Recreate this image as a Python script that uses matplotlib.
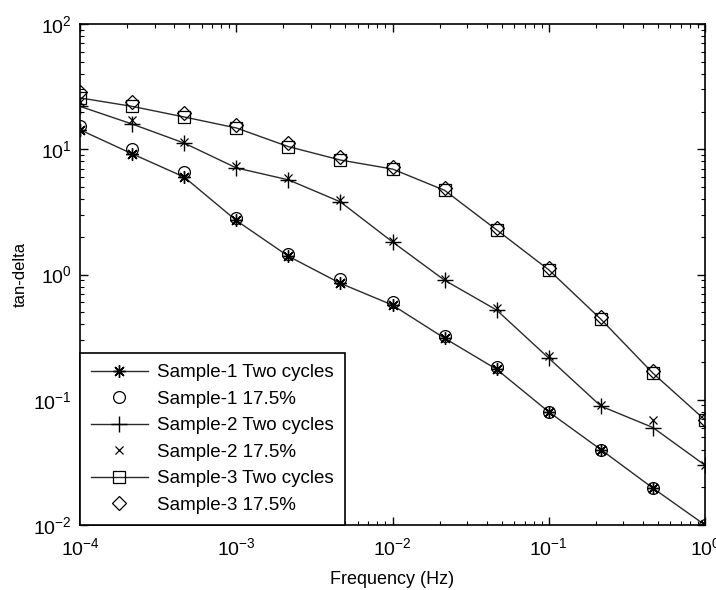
import numpy as np
import matplotlib
matplotlib.use("Agg")
import matplotlib.pyplot as plt

plt.rcParams["font.family"] = ["Liberation Sans", "DejaVu Sans"]

# Frequencies (Hz), 3 points per decade
freq = np.logspace(-4, 0, 13)

s1_two = [14.3, 9.2, 6.0, 2.7, 1.4, 0.85, 0.57, 0.31, 0.175, 0.080, 0.040, 0.0197, 0.0100]
s1_175 = [15.3, 10.0, 6.6, 2.8, 1.45, 0.92, 0.60, 0.32, 0.182, 0.080, 0.040, 0.0197, 0.0100]
s2_two = [22.0, 15.9, 11.2, 7.1, 5.7, 3.8, 1.82, 0.90, 0.52, 0.215, 0.089, 0.060, 0.030]
s2_175 = [24.0, 17.2, 11.5, 7.3, 5.9, 3.9, 1.85, 0.92, 0.54, 0.225, 0.090, 0.069, 0.030]
s3_two = [25.7, 22.0, 18.1, 14.8, 10.5, 8.2, 6.95, 4.7, 2.27, 1.09, 0.44, 0.163, 0.069]
s3_175 = [28.5, 24.0, 19.5, 15.6, 11.2, 8.6, 7.2, 4.9, 2.35, 1.12, 0.46, 0.170, 0.069]

labels = ["Sample-1 Two cycles", "Sample-1 17.5%", "Sample-2 Two cycles",
          "Sample-2 17.5%", "Sample-3 Two cycles", "Sample-3 17.5%"]

fig = plt.figure(figsize=(7.16, 5.9), dpi=100)
ax = fig.add_axes([80 / 716, 65 / 590, 625 / 716, 501 / 590])

lc = "#2a2a2a"
asterisk = (8, 2, 0)  # MATLAB-style '*'
ax.plot(freq, s1_two, color=lc, lw=1.0, marker=asterisk, ms=9, mec="k", mew=1.0, label=labels[0])
ax.plot(freq, s1_175, ls="none", marker="o", ms=8.5, mfc="none", mec="k", mew=0.9, label=labels[1])
ax.plot(freq, s2_two, color=lc, lw=1.0, marker="+", ms=11, mec="k", mew=1.0, label=labels[2])
ax.plot(freq, s2_175, ls="none", marker="x", ms=6, mec="k", mew=0.9, label=labels[3])
ax.plot(freq, s3_two, color=lc, lw=1.0, marker="s", ms=8.5, mfc="none", mec="k", mew=0.9, label=labels[4])
ax.plot(freq, s3_175, ls="none", marker="D", ms=7, mfc="none", mec="k", mew=0.9, label=labels[5])

ax.set_xscale("log")
ax.set_yscale("log")
ax.set_xlim(1e-4, 1)
ax.set_ylim(1e-2, 1e2)

ax.tick_params(which="both", direction="in", top=True, right=True, labelsize=14, colors="k")
ax.tick_params(which="major", length=6, width=1)
ax.tick_params(which="minor", length=3, width=0.8)
ax.tick_params(axis="x", pad=9)
ax.tick_params(axis="y", pad=6)
for sp in ax.spines.values():
    sp.set_linewidth(1.2)

ax.set_xlabel("Frequency (Hz)", fontsize=13, labelpad=8)
ax.set_ylabel("tan-delta", fontsize=12, labelpad=4)

leg = ax.legend(loc="lower left", borderaxespad=0, fontsize=13.5, fancybox=False,
                edgecolor="k", framealpha=1, handlelength=3.0, labelspacing=0.5,
                borderpad=0.6, handletextpad=0.5)
leg.get_frame().set_linewidth(1.2)

fig.savefig("out.png", dpi=100)
